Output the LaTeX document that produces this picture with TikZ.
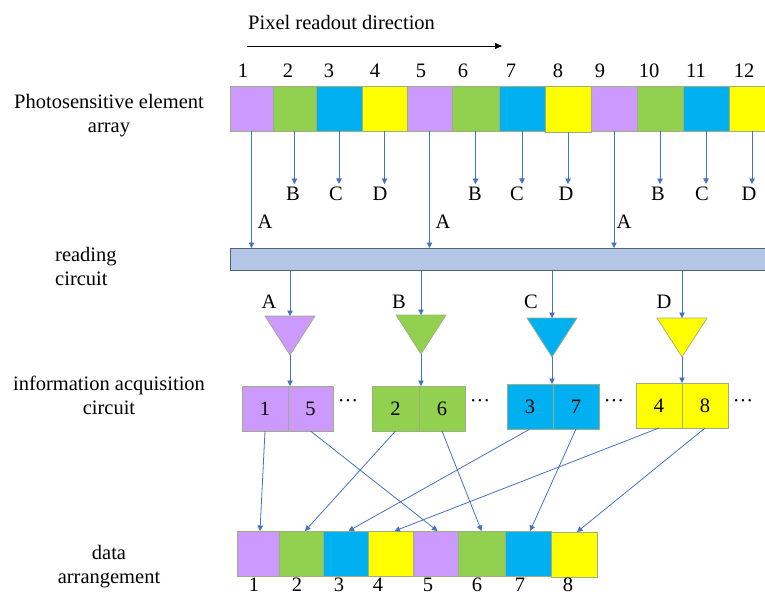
\documentclass[tikz,border=0pt]{standalone}
\usepackage{fontspec}
\setmainfont{Liberation Serif}
\usetikzlibrary{arrows.meta}
\definecolor{cpur}{HTML}{CC99FF}
\definecolor{cgrn}{HTML}{92D050}
\definecolor{cblu}{HTML}{00B0F0}
\definecolor{cyel}{HTML}{FFFF00}
\definecolor{cbord}{HTML}{9EAE80}
\definecolor{carr}{HTML}{4472C4}
\definecolor{cbar}{HTML}{B4C7E7}
\definecolor{cbarb}{HTML}{56606E}
\begin{document}
\begin{tikzpicture}[x=1pt,y=-1pt,
  font=\fontsize{20.5}{24}\selectfont,
  cellbox/.style={draw=cbord, line width=0.7pt, inner sep=0pt, outer sep=0pt, minimum height=45, anchor=north west},
  arr/.style={draw=carr, line width=0.8pt, -{Triangle[width=5.5pt,length=5.5pt]}},
  lbl/.style={inner sep=3pt},
  tri/.style={draw=cbord, line width=0.7pt}]
\useasboundingbox (0,0) rectangle (765,595);
\clip (0,0) rectangle (765,595);

% title and direction arrow
\node[anchor=west, inner sep=0pt] (title) at (248,22) {Pixel readout direction};
\coordinate (ds) at (247,46);
\coordinate (de) at (502,46);
\draw[line width=0.8pt, -{Triangle[width=6pt,length=7pt]}] (ds) -- (de);

% left labels
\node[align=center] (lab1) at (109,116) {Photosensitive element\\array};
\node[align=left, anchor=west, inner sep=0pt] (lab2) at (55,266) {reading\\circuit};
\node[align=center] (lab3) at (109,395) {information acquisition\\circuit};
\node[align=center] (lab4) at (109,567) {data\\arrangement};

% photosensitive element array
\foreach \i/\xa/\w/\c in {1/230/43/cpur, 2/273/43/cgrn, 3/316/46/cblu, 4/362/45/cyel,
  5/407/45/cpur, 6/452/47/cgrn, 7/499/46/cblu, 9/591/46/cpur,
  10/637/46/cgrn, 11/683/46/cblu, 12/729/46/cyel}
  \node[cellbox, fill=\c, minimum width=\w] (p\i) at (\xa,86) {};
\node[cellbox, fill=cyel, minimum width=46, minimum height=46] (p8) at (545,86) {};

% numbers above
\foreach \i/\xx in {1/243, 2/288, 3/329, 4/375, 5/421, 6/463, 7/511, 8/558, 9/600, 10/649, 11/696, 12/744}
  \node (n\i) at (\xx,71) {\i};

% reading circuit bar
\node[draw=cbarb, fill=cbar, line width=0.8pt, inner sep=0pt, minimum width=560, minimum height=22, anchor=north west] (bar) at (230,248) {};

% A arrows to bar
\foreach \i in {1,5,9}
  \draw[arr] (p\i.south) -- (p\i.south |- bar.north);
\node (la1) at (265,222) {A};
\node (la5) at (443,222) {A};
\node (la9) at (624,222) {A};

% B, C, D labels and arrows
\foreach \i/\xx/\t in {2/293/B, 3/336/C, 4/380/D, 6/475/B, 7/517/C, 8/566/D, 10/658/B, 11/702/C, 12/749/D}
  \node[lbl] (l\i) at (\xx,194) {\t};
\foreach \i in {2,3,4,6,7,8,10,11,12}
  \draw[arr] (p\i.south) -- (p\i.south |- l\i.north);

% triangles
\foreach \n/\xx/\yt/\c in {A/290/316/cpur, B/421/315/cgrn, C/552/318/cblu, D/682/318/cyel}{
  \coordinate (t\n) at (\xx,\yt);
  \coordinate (a\n) at (\xx,\yt+39);
  \filldraw[tri, fill=\c] (\xx-25,\yt) -- (\xx+25,\yt) -- (\xx,\yt+39) -- cycle;
  \draw[arr] (t\n |- bar.south) -- (t\n);
}
\node (ltA) at (269,302) {A};
\node (ltB) at (399,302) {B};
\node (ltC) at (531,302) {C};
\node (ltD) at (664,302) {D};

% information acquisition circuit
\foreach \i/\xa/\ya/\w/\c in {1/242/386/46/cpur, 5/288/386/45/cpur, 2/372/386/47/cgrn, 6/419/386/46/cgrn,
  3/507/384/46/cblu, 7/553/384/46/cblu, 4/636/383/46/cyel, 8/682/383/46/cyel}
  \node[cellbox, fill=\c, minimum width=\w] (s\i) at (\xa,\ya) {};
\foreach \i in {1,...,8}
  \node (sn\i) at (s\i.center) {\i};
\draw[arr] (aA) -- (aA |- s1.north);
\draw[arr] (aB) -- (aB |- s2.north);
\draw[arr] (aC) -- (aC |- s3.north);
\draw[arr] (aD) -- (aD |- s4.north);
\node (dots1) at (348,403) {···};
\node (dots2) at (480,403) {···};
\node (dots3) at (614,403) {···};
\node (dots4) at (743,403) {···};

% data arrangement
\foreach \i/\xa/\w/\c in {1/237/42/cpur, 2/279/44/cgrn, 3/323/45/cblu, 4/368/45/cyel,
  5/413/45/cpur, 6/458/47/cgrn, 7/505/46/cblu}
  \node[cellbox, fill=\c, minimum width=\w] (d\i) at (\xa,531) {};
\node[cellbox, fill=cyel, minimum width=46] (d8) at (551,532) {};
\foreach \i/\xx in {1/254, 2/297, 3/339, 4/378, 5/428, 6/477, 7/520, 8/568}
  \node (dn\i) at (\xx,585) {\i};

% connectors to data arrangement
\draw[arr] (s1.south) -- ([xshift=2]d1.north);
\draw[arr] (s5.south) -- ([xshift=2]d5.north);
\draw[arr] (s2.south) -- ([xshift=4]d2.north);
\draw[arr] (s6.south) -- (d6.north);
\draw[arr] (s3.south) -- ([xshift=3]d3.north);
\draw[arr] (s7.south) -- ([xshift=2]d7.north);
\draw[arr] (s4.south) -- ([xshift=4]d4.north);
\draw[arr] (s8.south) -- ([xshift=3]d8.north);
\end{tikzpicture}
\end{document}
